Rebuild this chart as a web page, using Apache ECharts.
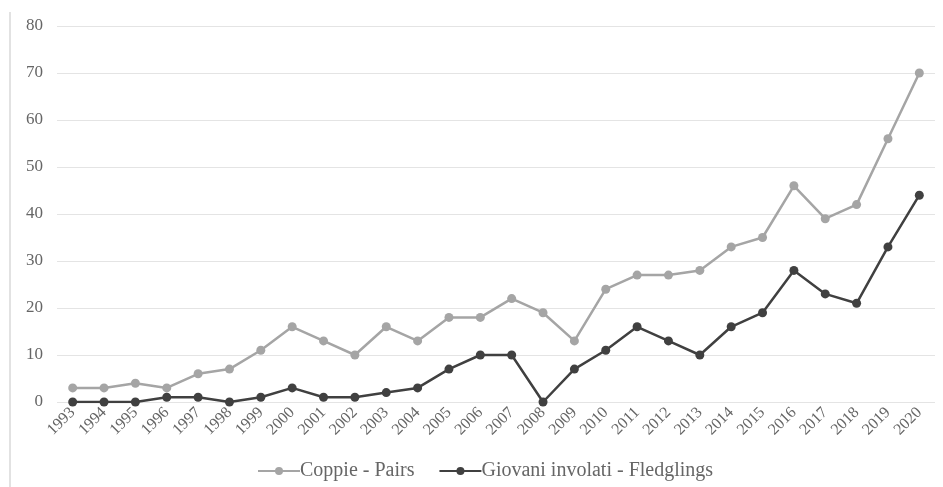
<!DOCTYPE html>
<html><head><meta charset="utf-8">
<script src="https://cdn.jsdelivr.net/npm/echarts@6/dist/echarts.min.js"></script>
<style>html,body{margin:0;padding:0;background:#fff}#c{width:943px;height:487px}</style>
</head><body><div id="c"></div>
<script>
var years = ['1993','1994','1995','1996','1997','1998','1999','2000','2001','2002','2003','2004','2005','2006','2007','2008','2009','2010','2011','2012','2013','2014','2015','2016','2017','2018','2019','2020'];
var pairs = [3,3,4,3,6,7,11,16,13,10,16,13,18,18,22,19,13,24,27,27,28,33,35,46,39,42,56,70];
var fledglings = [0,0,0,1,1,0,1,3,1,1,2,3,7,10,10,0,7,11,16,13,10,16,19,28,23,21,33,44];
var yTicks = [0,10,20,30,40,50,60,70,80];

var chart = echarts.init(document.getElementById('c'));
var font = '"Liberation Serif", "DejaVu Serif", serif';
chart.setOption({
  animation: false,
  textStyle: {fontFamily: font},
  graphic: [{type:'line', shape:{x1:10,y1:12,x2:10,y2:487}, style:{stroke:'#d9d9d9', lineWidth:1.5}}],
  grid: {left: 57, right: 8, top: 26, bottom: 85},
  legend: {
    bottom: 1, left: 252, itemWidth: 42, itemHeight: 10, itemGap: 24,
    textStyle: {fontFamily: font, fontSize: 20, color: '#666666', padding: [0,0,0,-5]},
    data: ['Coppie - Pairs', 'Giovani involati - Fledglings']
  },
  xAxis: {
    type: 'category', data: years, boundaryGap: true,
    axisLine: {show: false}, axisTick: {show: false},
    axisLabel: {rotate: 45, fontSize: 16, color: '#666666', fontFamily: font, margin: 8, interval: 0}
  },
  yAxis: {
    type: 'value', min: 0, max: 80, interval: 10,
    axisLine: {show: false}, axisTick: {show: false},
    axisLabel: {fontSize: 17, color: '#666666', fontFamily: font, margin: 14,
      formatter: function(v){ return yTicks.indexOf(v) >= 0 ? String(v) : ''; }},
    splitLine: {lineStyle: {color: '#e4e4e4', width: 1}}
  },
  series: [
    {name: 'Coppie - Pairs', type: 'line', data: pairs, symbol: 'circle', symbolSize: 9,
     lineStyle: {color: '#a5a5a5', width: 2.5}, itemStyle: {color: '#a5a5a5'}},
    {name: 'Giovani involati - Fledglings', type: 'line', data: fledglings, symbol: 'circle', symbolSize: 9,
     lineStyle: {color: '#404040', width: 2.5}, itemStyle: {color: '#404040'}}
  ]
});
</script></body></html>
